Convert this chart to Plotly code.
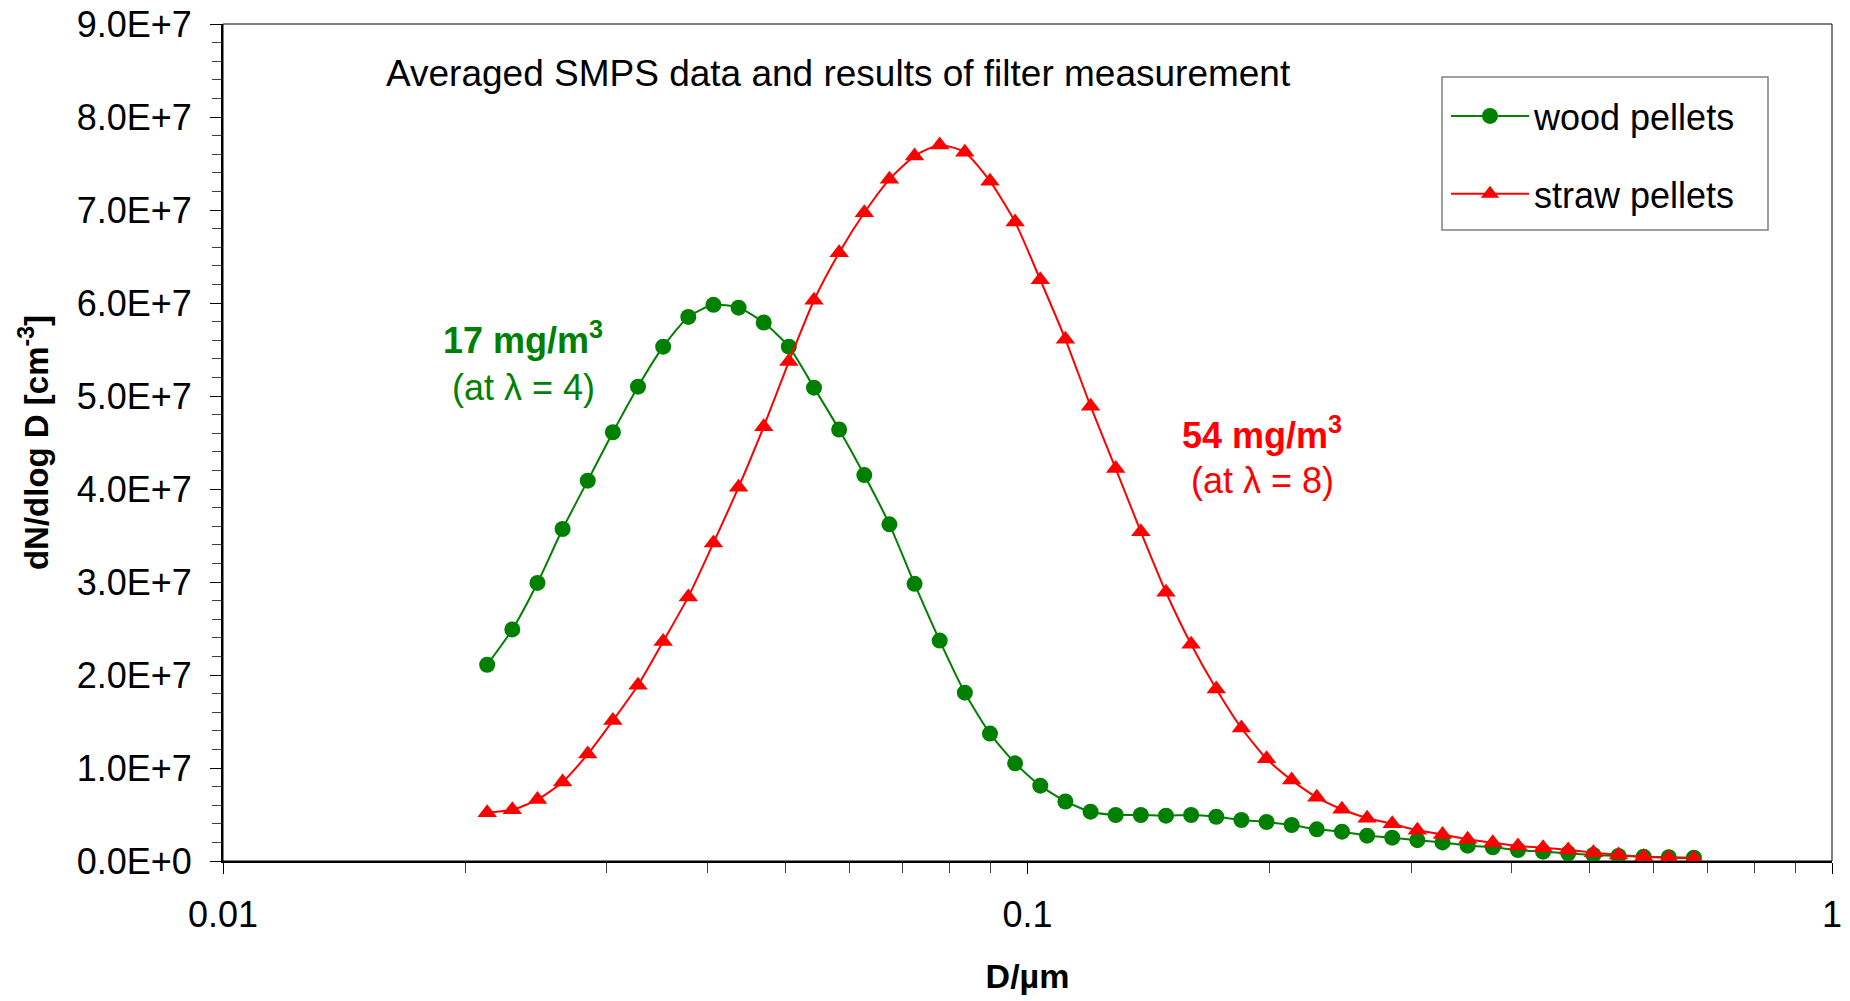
import plotly.graph_objects as go

# Particle diameter channels (µm), SMPS, 32 channels per decade
diameter_um = [0.021300, 0.022889, 0.024597, 0.026432, 0.028404, 0.030523, 0.032800, 0.035247,
               0.037877, 0.040703, 0.043740, 0.047003, 0.050511, 0.054279, 0.058329, 0.062680,
               0.067357, 0.072382, 0.077782, 0.083585, 0.089821, 0.096523, 0.103724, 0.111463,
               0.119779, 0.128715, 0.138318, 0.148638, 0.159727, 0.171644, 0.184450, 0.198211,
               0.213000, 0.228891, 0.245968, 0.264320, 0.284040, 0.305230, 0.328003, 0.352475,
               0.378774, 0.407033, 0.437401, 0.470034, 0.505102, 0.542790, 0.583287, 0.626806,
               0.673570]

# dN/dlogD (cm^-3)
wood_pellets = [2.11e7, 2.49e7, 2.99e7, 3.57e7, 4.09e7, 4.61e7, 5.10e7, 5.53e7,
                5.85e7, 5.98e7, 5.95e7, 5.79e7, 5.53e7, 5.09e7, 4.64e7, 4.15e7,
                3.62e7, 2.98e7, 2.37e7, 1.81e7, 1.37e7, 1.05e7, 0.81e7, 0.64e7,
                0.53e7, 0.495e7, 0.495e7, 0.487e7, 0.495e7, 0.476e7, 0.441e7, 0.419e7,
                0.387e7, 0.341e7, 0.315e7, 0.272e7, 0.251e7, 0.224e7, 0.200e7, 0.165e7,
                0.147e7, 0.118e7, 0.100e7, 0.083e7, 0.065e7, 0.054e7, 0.046e7, 0.040e7,
                0.036e7]

straw_pellets = [0.52e7, 0.55e7, 0.66e7, 0.85e7, 1.15e7, 1.51e7, 1.89e7, 2.36e7,
                 2.84e7, 3.42e7, 4.02e7, 4.67e7, 5.37e7, 6.03e7, 6.54e7, 6.97e7,
                 7.33e7, 7.58e7, 7.70e7, 7.62e7, 7.31e7, 6.87e7, 6.25e7, 5.61e7,
                 4.89e7, 4.22e7, 3.54e7, 2.89e7, 2.33e7, 1.85e7, 1.43e7, 1.10e7,
                 0.87e7, 0.685e7, 0.556e7, 0.46e7, 0.40e7, 0.33e7, 0.285e7, 0.233e7,
                 0.197e7, 0.161e7, 0.143e7, 0.118e7, 0.090e7, 0.065e7, 0.046e7, 0.036e7,
                 0.029e7]

y_tick_vals = [0, 1e7, 2e7, 3e7, 4e7, 5e7, 6e7, 7e7, 8e7, 9e7]
y_tick_text = ["0.0E+0", "1.0E+7", "2.0E+7", "3.0E+7", "4.0E+7",
               "5.0E+7", "6.0E+7", "7.0E+7", "8.0E+7", "9.0E+7"]
x_tick_vals = [0.01, 0.1, 1]
x_tick_text = ["0.01", "0.1", "1"]

FONT = "Arial, Liberation Sans, sans-serif"
GREEN = "#008000"
RED = "#FF0000"

fig = go.Figure()
fig.add_trace(go.Scatter(
    x=diameter_um, y=wood_pellets, name="wood pellets", legendgroup="w",
    mode="lines+markers",
    line=dict(color=GREEN, width=2, shape="spline", smoothing=0.6),
    marker=dict(symbol="circle", size=16, color=GREEN),
))
fig.add_trace(go.Scatter(
    x=diameter_um, y=straw_pellets, name="straw pellets", legendgroup="s",
    mode="lines+markers",
    line=dict(color=RED, width=2, shape="spline", smoothing=0.6),
    marker=dict(symbol="triangle-up", size=17, color=RED),
))

L, R, T, B = 223, 18, 24, 140
W, H = 1850, 1001
PW, PH = W - L - R, H - T - B


def px(xpix):
    return (xpix - L) / PW


def py(ypix):
    return (H - B - ypix) / PH


annotations = [
    dict(text="Averaged SMPS data and results of filter measurement",
         x=px(838), y=py(73), font=dict(size=37, color="black")),
    dict(text="<b>17 mg/m<sup>3</sup></b>", x=px(523), y=py(338),
         font=dict(size=36, color=GREEN)),
    dict(text="(at λ = 4)", x=px(523), y=py(387), font=dict(size=36, color=GREEN)),
    dict(text="<b>54 mg/m<sup>3</sup></b>", x=px(1262), y=py(433),
         font=dict(size=36, color=RED)),
    dict(text="(at λ = 8)", x=px(1262), y=py(480), font=dict(size=36, color=RED)),
]
for a in annotations:
    a.update(xref="paper", yref="paper", showarrow=False,
             xanchor="center", yanchor="middle")

fig.update_layout(
    width=W, height=H,
    margin=dict(l=L, r=R, t=T, b=B, pad=0, autoexpand=False),
    paper_bgcolor="white", plot_bgcolor="white",
    font=dict(family=FONT, size=36, color="black"),
    showlegend=True,
    legend=dict(x=px(1446), y=py(86), xanchor="left", yanchor="top",
                borderwidth=0, bgcolor="rgba(0,0,0,0)",
                font=dict(size=36, color="black"),
                traceorder="grouped", tracegroupgap=28,
                itemwidth=78),
    annotations=annotations,
    shapes=[
        dict(type="rect", xref="paper", yref="paper", x0=0, y0=0, x1=1, y1=1,
             line=dict(color="black", width=1), layer="below"),
        dict(type="rect", xref="paper", yref="paper",
             x0=px(1442), y0=py(230), x1=px(1768), y1=py(77),
             line=dict(color="#808080", width=1.5), fillcolor="white", layer="below"),
    ],
    xaxis=dict(
        type="log", range=[-2, 0], automargin=False,
        tickvals=x_tick_vals, ticktext=x_tick_text,
        ticks="outside", ticklen=11, tickwidth=1, tickcolor="black",
        ticklabelstandoff=10,
        minor=dict(ticks="outside", ticklen=10, tickwidth=1, tickcolor="#404040",
                   dtick="D1", showgrid=False),
        showline=True, linecolor="black", linewidth=2,
        showgrid=False, zeroline=False,
        tickfont=dict(size=36),
        title=dict(text="<b>D/µm</b>", font=dict(size=34), standoff=30),
    ),
    yaxis=dict(
        range=[0, 9e7], automargin=False,
        tickvals=y_tick_vals, ticktext=y_tick_text,
        ticks="outside", ticklen=11, tickwidth=1, tickcolor="black",
        ticklabelstandoff=11,
        minor=dict(ticks="outside", ticklen=9, tickwidth=1, tickcolor="#404040",
                   dtick=2e6, showgrid=False),
        showline=True, linecolor="black", linewidth=2,
        showgrid=False, zeroline=False,
        tickfont=dict(size=36),
        title=dict(text="<b>dN/dlog D [cm<sup>-3</sup>]</b>", font=dict(size=33), standoff=18),
    ),
    yaxis2=dict(
        overlaying="y", side="left", anchor="x", range=[0, 9e7],
        tickvals=y_tick_vals, showticklabels=False,
        ticks="inside", ticklen=10, tickwidth=1, tickcolor="black",
        showgrid=False, zeroline=False, showline=False,
    ),
    xaxis2=dict(
        overlaying="x", side="bottom", anchor="y", type="log", range=[-2, 0],
        tickvals=x_tick_vals, showticklabels=False,
        ticks="inside", ticklen=10, tickwidth=1, tickcolor="black",
        showgrid=False, zeroline=False, showline=False,
    ),
)

fig.write_html("out.html")
